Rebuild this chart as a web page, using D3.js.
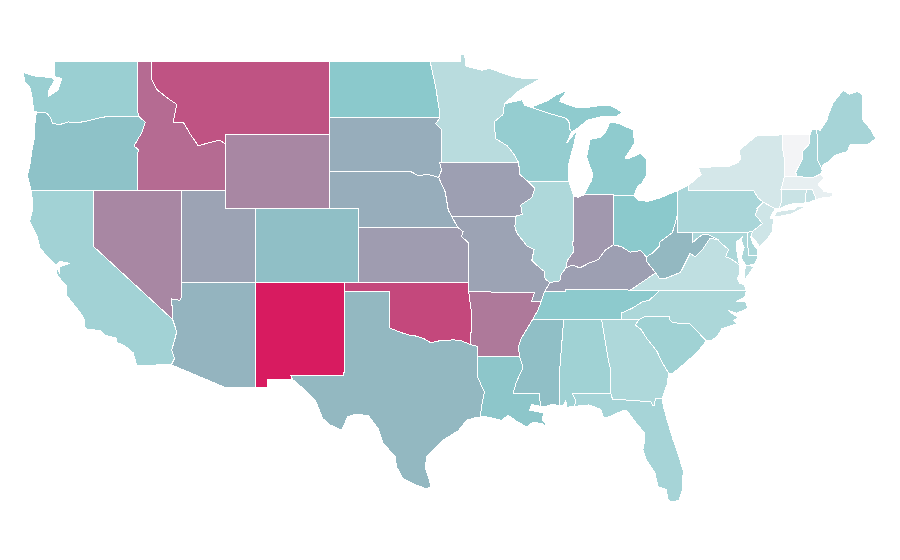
<!DOCTYPE html>
<html><head><meta charset="utf-8">
<script src="https://cdn.jsdelivr.net/npm/d3@7"></script>
<style>html,body{margin:0;background:#fff}svg{display:block}</style></head>
<body><svg id="map" width="900" height="560"></svg>
<script>
const stateNames=["WA","OR","CA","ID","NV","MT","WY","UT","AZ","CO","NM","ND","SD","NE","KS","OK","TX","MN","IA","MO","AR","LA","WI","IL","MS","MI","IN","KY","TN","AL","OH","GA","FL","SC","NC","VA","WV","PA","NY","VT","NH","ME","MA","RI","CT","NJ","DE","MD"];
const stateValues=[43,52,39,77,69,84,69,61,56,53,100,50,58,58,63,87,55,28,62,61,73,51,45,33,53,48,64,62,49,40,50,33,37,40,34,25,55,35,15,0,37,37,6,23,20,18,34,34];
const colorStops=["#f3f4f6","#8bc9cc","#d81b60"];
const valueStops=[0,50,100];

// shared borders, [lon,lat]
const wa_or=[[-123.85,46.24],[-123.4,46.2],[-123.15,46.18],[-122.9,45.95],[-122.75,45.62],[-122.3,45.55],[-121.7,45.7],[-121.2,45.65],[-120.6,45.72],[-119.6,45.92],[-119,46],[-116.92,46]];
const or_id=[[-116.92,46],[-116.48,45.68],[-116.7,45.15],[-117.25,44.4],[-116.95,44.2],[-117.03,43.85],[-117.03,42]];
const id_mt=[[-116.05,49],[-116.05,48],[-115.7,47.45],[-115,47],[-114.35,46.65],[-114.5,46.1],[-114.6,45.65],[-113.9,45.66],[-113.45,45.05],[-112.9,44.4],[-112.3,44.55],[-111.43,44.72],[-111.05,44.49]];
const ca_az=[[-114.63,35],[-114.36,34.34],[-114.5,33.9],[-114.7,33.35],[-114.5,32.9],[-114.72,32.55]];
const nv_az=[[-114.04,36.2],[-114.14,36.04],[-114.7,36.12],[-114.63,35]];
const red_river=[[-100,34.56],[-99.5,34.4],[-99.2,34.3],[-98.6,34.15],[-98.1,34.1],[-97.6,33.95],[-97.2,33.75],[-96.6,33.85],[-95.7,33.9],[-95.2,33.88],[-94.48,33.64]];
const ok_ar=[[-94.48,33.64],[-94.43,35.4],[-94.62,36.5]];
const mn_nd=[[-97.23,49],[-97.1,48.5],[-96.85,47.6],[-96.6,46.3],[-96.56,45.93]];
const mn_sd=[[-96.56,45.93],[-96.85,45.6],[-96.45,45.3],[-96.45,43.52]];
const ne_sd=[[-104.05,43],[-98.5,43],[-98,42.78],[-97.4,42.87],[-96.65,42.7]];
const ia_sd=[[-96.6,43.52],[-96.45,43.1],[-96.65,42.7]];
const ia_ne=[[-96.65,42.7],[-96.2,41.9],[-96,40.93],[-95.77,40.6]];
const ne_mo=[[-95.77,40.6],[-95.37,40]];
const ks_mo=[[-95.37,40],[-95,39.76],[-95.1,39.5],[-94.63,39.15],[-94.62,37]];
const mn_wi=[[-92.2,46.7],[-92.3,46.1],[-92.9,45.7],[-92.8,44.8],[-92,44.4],[-91.6,44],[-91.25,43.52]];
const ia_wi=[[-91.25,43.52],[-91.15,42.85],[-90.64,42.5]];
const ia_il=[[-90.64,42.5],[-90.15,42.1],[-90.35,41.6],[-91.1,41.2],[-91,40.7],[-91.42,40.6]];
const mo_il=[[-91.42,40.6],[-91.5,40.03],[-91.37,39.7],[-90.7,39],[-90.2,38.8],[-90.35,38.2],[-89.95,37.9],[-89.5,37.6],[-89.45,37.2],[-89.13,37]];
const mo_ky=[[-89.5,36.5],[-89.13,37]];
const mo_tn=[[-89.7,36],[-89.5,36.5]];
const ar_tn=[[-90.3,35],[-89.95,35.5],[-89.7,36]];
const ar_ms=[[-90.3,35],[-90.6,34.6],[-91.05,34],[-91.27,33.5],[-91.17,33]];
const ms_la=[[-91.17,33],[-90.95,32.4],[-91.4,31.6],[-91.62,30.98],[-89.85,30.98],[-89.75,30.3]];
const la_coast=[[-89.75,30.3],[-90.35,30.4],[-90.5,30.1],[-89.9,30],[-89.55,29.95],[-89.65,29.6],[-89.15,29.05],[-89.6,29.35],[-90.25,29.45],[-90.7,29.2],[-91.3,29.45],[-91.95,29.82],[-92.4,29.55],[-93.5,29.75],[-93.85,29.72]];
const tx_la=[[-93.85,29.72],[-93.7,30.5],[-93.55,31.1],[-93.8,31.5],[-94.04,31.95],[-94.04,33]];
const wi_sup=[[-92.2,46.7],[-92,46.72],[-91,46.9],[-90.85,46.62],[-90.4,46.5]];
const wi_up=[[-90.4,46.5],[-89.1,46.14],[-88.1,45.92],[-87.85,45.75],[-87.77,45.3],[-87.66,45.15]];
const wi_lake=[[-87.66,45.15],[-88,44.55],[-87.3,45.25],[-87.5,44.5],[-87.7,43.9],[-87.9,43.28],[-87.85,42.49]];
const il_in=[[-87.53,41.7],[-87.53,39.35],[-87.6,39.1],[-87.5,38.7],[-87.95,38.2],[-88.05,37.8]];
const il_ky=[[-89.13,37],[-88.45,37.1],[-88.4,37.4],[-88.05,37.8]];
const in_ky=[[-88.05,37.8],[-87.6,37.95],[-87.1,37.8],[-86.5,38.05],[-85.85,38.25],[-85.4,38.75],[-84.85,39.05]];
const oh_ky=[[-84.85,39.05],[-84.3,38.95],[-83.7,38.65],[-83,38.73],[-82.6,38.4]];
const oh_wv=[[-82.6,38.4],[-82.2,38.6],[-81.75,38.95],[-81.7,39.2],[-80.85,39.7],[-80.7,40.1],[-80.52,40.64]];
const ky_wv=[[-82.6,38.4],[-82.6,38.15],[-81.97,37.53]];
const ky_va=[[-81.97,37.53],[-83.68,36.6]];
const ky_tn=[[-83.68,36.6],[-88.05,36.65],[-88.05,36.5],[-89.5,36.5]];
const tn_nc=[[-84.3,35],[-84.3,35.35],[-83.6,35.6],[-82.9,35.95],[-82.4,36.05],[-81.7,36.58]];
const tn_va=[[-81.7,36.58],[-83.68,36.6]];
const ga_sc=[[-83.1,35],[-83.37,34.7],[-83,34.5],[-82.55,33.95],[-81.9,33.3],[-81.5,32.63],[-81.1,32.1]];
const al_ga=[[-85.63,34.98],[-85.18,32.85],[-85.05,32.38],[-85.05,31.55],[-85,31]];
const ga_fl=[[-85,31],[-84.9,30.7],[-82.3,30.55],[-82.2,30.37],[-82.05,30.36],[-82,30.75],[-81.55,30.72]];
const al_fl=[[-87.6,31],[-85,31]];
const al_ms=[[-88.2,34.98],[-88.5,31.9],[-88.45,30.35]];
const nc_sc=[[-83.1,35],[-82.7,35.16],[-81.05,35.15],[-81.05,35.03],[-80.8,34.82],[-79.7,34.8],[-78.55,33.85]];
const nc_va=[[-75.85,36.55],[-81.7,36.58]];
const va_wv=[[-81.97,37.53],[-81.7,37.2],[-81.25,37.25],[-80.3,37.55],[-79.65,38.58],[-79.3,38.4],[-78.85,38.75],[-78.3,39.4],[-77.75,39.32]];
const va_md=[[-77.75,39.32],[-77.5,39.1],[-77.05,38.8],[-77.25,38.4],[-76.9,38.3],[-76.3,37.95]];
const md_wv=[[-79.48,39.72],[-79.48,39.17],[-79.05,39.47],[-78.8,39.6],[-78.42,39.6],[-77.75,39.32]];
const pa_oh=[[-80.52,41.98],[-80.52,40.64]];
const pa_wv=[[-80.52,40.64],[-80.52,39.72],[-79.48,39.72]];
const pa_md=[[-79.48,39.72],[-75.8,39.72]];
const ny_pa=[[-79.76,42.27],[-79.76,42],[-75.35,42],[-75.07,41.6],[-74.7,41.36]];
const nj_pa=[[-74.7,41.36],[-75.15,41],[-75.1,40.95],[-75.25,40.68],[-74.75,40.2],[-75.4,39.8]];
const de_pa=[[-75.4,39.8],[-75.8,39.72]];
const de_nj=[[-75.4,39.8],[-75.55,39.5]];
const vt_ny=[[-73.43,45],[-73.4,44.3],[-73.25,43.6],[-73.27,42.75]];
const vt_nh=[[-71.55,45],[-71.6,44.5],[-72.05,44.1],[-72.05,43.7],[-72.5,43],[-72.46,42.73]];
const ma_n=[[-73.27,42.75],[-72.46,42.73],[-71.3,42.7],[-70.85,42.87]];
const ny_ma=[[-73.27,42.75],[-73.5,42.05]];
const ma_ct=[[-73.5,42.05],[-71.8,42.02]];
const ma_ri=[[-71.8,42.02],[-71.38,42.02],[-71.2,41.68],[-71.15,41.5]];
const ct_ri=[[-71.8,42.02],[-71.85,41.32]];
const ny_ct=[[-73.5,42.05],[-73.5,41.3],[-73.65,41]];
const nh_me=[[-71.08,45.3],[-71,43.6],[-70.7,43.07]];

// state outlines
const rev=a=>[...a].reverse();
const ring=(...parts)=>parts.flat();
const WA=[ring([[-117.04,49],[-122.6,49],[-122.6,48.15],[-122.14,48.06],[-122.37,47.43],[-123.04,47.07],[-123.04,47.34],[-122.8,47.7],[-122.62,47.97],[-122.85,48.12],[-123.2,48.13],[-123.9,48.17],[-124.72,48.38],[-124.65,47.9],[-124.3,47.6],[-124.1,46.9],[-124.05,46.3]],wa_or,[[-117.04,46.42]])];
const OR=[ring(wa_or,or_id,[[-124.2,42],[-124.46,42.83],[-124.3,43.3],[-124.1,44.4],[-123.95,44.9],[-123.95,45.6]])];
const CA=[ring([[-124.17,42],[-120,42],[-120,38.97]],ca_az,[[-117.07,32.53],[-117.3,33.2],[-117.9,33.6],[-118.4,33.75],[-118.45,34],[-119.2,34.15],[-119.55,34.4],[-120.55,34.5],[-120.6,35],[-120.9,35.4],[-121.8,36.3],[-121.8,36.85],[-122,36.95],[-122.5,37.5],[-122.45,37.8],[-122.25,37.5],[-122.3,37.85],[-121.6,38.05],[-122.3,38.15],[-122.5,37.95],[-123,38.3],[-123.6,38.87],[-123.8,39.5],[-124.3,40.3],[-124.1,41]]),[[-120.25,34.02],[-120,34.06],[-119.9,33.98],[-120.1,33.95]]];
const ID=[ring([[-117.04,49]],id_mt,[[-111.05,42]],rev(or_id),[[-117.04,46.42]])];
const NV=[ring([[-120,42],[-114.04,42],[-114.04,37]],nv_az,[[-120,38.97]])];
const MT=[ring(id_mt,[[-111.05,45],[-104.05,45],[-104.05,49]])];
const WY=[[[-111.05,45],[-104.05,45],[-104.05,41],[-111.05,41]]];
const UT=[[[-114.04,42],[-111.05,42],[-111.05,41],[-109.05,41],[-109.05,37],[-114.04,37]]];
const AZ=[ring([[-114.04,37],[-109.05,37],[-109.05,31.35],[-111.15,31.35]],rev(ca_az),rev(nv_az))];
const CO=[[[-109.05,41],[-102.05,41],[-102.05,37],[-109.05,37]]];
const NM=[[[-109.05,37],[-103,37],[-103.05,32],[-106.65,32],[-106.55,31.78],[-108.25,31.78],[-108.25,31.35],[-109.05,31.35]]];
const ND=[ring([[-104.05,49]],mn_nd,[[-104.05,45.95]])];
const SD=[ring([[-104.05,45.95]],mn_sd,[[-96.6,43.52]],ia_sd,rev(ne_sd))];
const NE=[ring(ne_sd,ia_ne,ne_mo,[[-102.05,40],[-102.05,41],[-104.05,41]])];
const KS=[ring([[-102.05,40]],ks_mo,[[-102.05,37]])];
const OK=[ring([[-103,37],[-94.62,37],[-94.62,36.5]],rev(ok_ar),rev(red_river),[[-100,36.5],[-103,36.5]])];
const TX=[ring([[-106.65,32],[-103.05,32],[-103,36.5],[-100,36.5]],red_river,[[-94.04,33.55],[-94.04,33]],rev(tx_la),[[-94,29.72],[-94.75,29.56],[-95.3,29],[-96.4,28.45],[-97.1,27.9],[-97.46,27.6],[-97.55,27],[-97.35,26.5],[-97.15,25.95],[-97.5,25.85],[-98.2,26.05],[-99.06,26.4],[-99.5,27.03],[-99.6,27.6],[-100.4,28.3],[-100.75,29.1],[-101.4,29.8],[-102.3,29.88],[-102.8,29.74],[-103.2,29.02],[-104,29.3],[-104.5,29.65],[-105,30.65],[-106,31.4],[-106.55,31.78]])];
const MN=[ring([[-95.15,49.35],[-94.9,49.35],[-94.8,48.72],[-93.75,48.5],[-93.2,48.6],[-92.3,48.33],[-91.6,48.15],[-91,48.07],[-89.8,48.02],[-91.15,47.43],[-92.2,46.7]],mn_wi,[[-96.45,43.52]],rev(mn_sd),rev(mn_nd),[[-95.15,49]])];
const IA=[ring([[-96.6,43.52],[-91.25,43.52]],ia_wi,ia_il,rev(ia_ne),rev(ia_sd))];
const MO=[ring([[-95.77,40.6]],mo_il,rev(mo_ky),rev(mo_tn),[[-90.37,36],[-90.15,36.48],[-94.62,36.5],[-94.62,37]],rev(ks_mo),rev(ne_mo))];
const AR=[ring([[-94.62,36.5],[-90.15,36.48],[-90.37,36],[-89.7,36]],rev(ar_tn),ar_ms,[[-94.04,33],[-94.04,33.55],[-94.48,33.64]],[[-94.43,35.4]])];
const LA=[ring([[-94.04,33]],ms_la,la_coast,tx_la)];
const WI=[ring(wi_sup,wi_up,wi_lake,[[-90.64,42.5]],rev(ia_wi),rev(mn_wi))];
const IL=[ring([[-90.64,42.5],[-87.85,42.49],[-87.6,41.9]],il_in,rev(il_ky),rev(mo_il),rev(ia_il))];
const MS=[ring([[-90.3,35],[-88.2,34.98]],al_ms,[[-89,30.4],[-89.4,30.3],[-89.75,30.3]],rev(ms_la),rev(ar_ms))];
const MI=[ring([[-86.82,41.76],[-86.3,42.55],[-86.25,42.9],[-86.65,43.8],[-86.42,44.72],[-86.2,44.8],[-85.75,44.85],[-85.4,45.1],[-85.06,45.7],[-84.4,45.6],[-83.5,45.26],[-83.4,44.55],[-84.05,43.75],[-83.85,43.7],[-83,44],[-82.6,43.7],[-82.6,42.8],[-82.9,42.4],[-83.2,42.2],[-83.45,41.73],[-84.8,41.7],[-84.8,41.76]]),
  ring([[-90.4,46.5],[-89.3,46.85],[-88.7,47.16],[-87.9,47.43],[-88.4,46.95],[-88.45,46.8],[-87.4,46.5],[-86.5,46.5],[-85.4,46.62],[-84.9,46.55],[-84.2,46.2],[-84.7,45.98],[-85.75,45.97],[-86.6,45.8],[-87.1,45.45]],rev(wi_up)),
  [[-89.2,47.88],[-88.5,48.15],[-88.55,48.1],[-89.15,47.92]]];
const IN=[ring([[-87.53,41.7],[-87.2,41.62],[-86.82,41.76],[-84.8,41.76],[-84.85,39.05]],rev(in_ky),rev(il_in))];
const KY=[ring([[-89.13,37]],il_ky,in_ky,oh_ky,ky_wv,ky_va,ky_tn)];
const TN=[ring(rev(ky_tn),rev(tn_va),rev(tn_nc),[[-85.63,34.98],[-88.2,34.98],[-90.3,35]],ar_tn,mo_tn)];
const AL=[ring([[-88.2,34.98]],al_ga,rev(al_fl),[[-87.4,30.65],[-87.45,30.3],[-88,30.25],[-88.05,30.6],[-88.25,30.35],[-88.45,30.35]],rev(al_ms))];
const OH=[ring([[-84.8,41.7],[-83.45,41.73],[-83.15,41.47],[-82.5,41.4],[-81.7,41.58],[-81.2,41.75],[-80.52,41.98],[-80.52,40.64]],rev(oh_wv),rev(oh_ky),[[-84.8,41.76]])];
const GA=[ring([[-85.63,34.98],[-84.3,35]],ga_sc,[[-81.2,31.5],[-81.55,30.72]],rev(ga_fl),rev(al_ga))];
const FL=[ring([[-87.6,31]],ga_fl,[[-81.45,30.3],[-81.2,29.56],[-80.8,28.5],[-80.5,27.8],[-80.12,26.85],[-80.15,25.8],[-80.4,25.2],[-80.9,25.14],[-81.15,25.25],[-81.25,25.8],[-81.8,25.95],[-82.03,26.7],[-82.6,27.4],[-82.85,27.95],[-82.7,28.5],[-82.75,28.9],[-83.2,29.3],[-83.9,30.05],[-84.2,30.07],[-85.3,29.68],[-85.5,29.72],[-85.7,30.15],[-86.5,30.38],[-87.45,30.3],[-87.4,30.65]])];
const SC=[ring(nc_sc,[[-79.1,33.3],[-79.9,32.7],[-80.5,32.3],[-80.9,32.05]],rev(ga_sc))];
const NC=[ring(rev(nc_va),[[-75.95,36.2],[-76.5,36],[-75.9,35.95],[-75.75,35.6],[-76.5,35.35],[-77.1,35.5],[-76.4,35.1],[-76.7,34.95],[-76.5,34.78],[-77.5,34.5],[-77.8,34.1],[-78.2,33.88]],rev(nc_sc),[[-84.3,35]],tn_nc)];
const VA=[ring(rev(ky_va),va_wv,va_md,[[-76.3,37.5],[-76.45,37.2],[-76.3,36.95],[-76,36.9]],nc_va,rev(tn_va)),[[-75.9,37.95],[-75.65,37.95],[-75.35,37.85],[-75.95,37.15],[-75.98,37.5]]];
const WV=[ring(pa_wv,md_wv,rev(va_wv),rev(ky_wv),oh_wv)];
const PA=[ring([[-80.52,41.98],[-79.76,42.27]],ny_pa,nj_pa,de_pa,rev(pa_md),rev(pa_wv),rev(pa_oh))];
const NY=[ring(ny_pa,[[-73.9,41],[-73.65,41]],rev(ny_ct),rev(ny_ma),rev(vt_ny),[[-75.15,44.95],[-76.3,44.2],[-76.25,43.7],[-76.4,43.5],[-77,43.3],[-77.5,43.27],[-79.1,43.25],[-78.9,42.85]]),[[-74,40.6],[-73.75,40.85],[-72.6,40.98],[-72.3,41.15],[-71.9,41.07],[-72.8,40.72],[-73.9,40.55]]];
const VT=[ring(vt_ny,rev(vt_nh))];
const NH=[ring([[-71.55,45],[-71.43,45.26],[-71.08,45.3]],nh_me,[[-70.85,42.87]],[[-71.3,42.7],[-72.46,42.73]],rev(vt_nh))];
const ME=[ring(nh_me,[[-70.66,43.37],[-70.2,43.6],[-69.85,43.9],[-69,44.1],[-68.85,44.45],[-67.6,44.5],[-67.1,44.8],[-67.45,45.3],[-67.96,45.8],[-67.98,47.16],[-68.3,47.35],[-68.9,47.2],[-69.3,47.43],[-70,46.7],[-70.25,46.2],[-70.4,45.8],[-70.85,45.25]])];
const MA=[ring(ma_n,[[-70.6,42.65],[-71,42.3],[-70.6,41.95],[-70.05,41.85],[-70.05,41.65],[-70.65,41.6],[-71.15,41.5]],rev(ma_ri),rev(ma_ct),rev(ny_ma))];
const RI=[ring(ma_ri,[[-71.5,41.37],[-71.85,41.32]],rev(ct_ri))];
const CT=[ring(ma_ct,ct_ri,[[-72.9,41.25],[-73.65,41]],rev(ny_ct))];
const NJ=[ring([[-74.7,41.36],[-73.9,41],[-74.25,40.5],[-74,40.45],[-74.1,39.75],[-74.45,39.35],[-74.95,38.93],[-75.2,39.25],[-75.55,39.5],[-75.4,39.8]],rev(nj_pa))];
const DE=[ring(de_pa,[[-75.7,38.46],[-75.05,38.45],[-75.1,38.8],[-75.4,39.1]],rev(de_nj))];
const MD=[ring(pa_md,[[-75.7,38.46],[-75.05,38.45],[-75.25,38.03],[-75.65,37.95],[-75.9,37.95],[-76.2,38.35],[-76,38.9],[-76.2,39.35],[-76.05,39.55],[-76.5,39.2],[-76.5,38.8],[-76.4,38.3],[-76.3,37.95]],rev(va_md),rev(md_wv))];
const outlines={WA,OR,CA,ID,NV,MT,WY,UT,AZ,CO,NM,ND,SD,NE,KS,OK,TX,MN,IA,MO,AR,LA,WI,IL,MS,MI,IN,KY,TN,AL,OH,GA,FL,SC,NC,VA,WV,PA,NY,VT,NH,ME,MA,RI,CT,NJ,DE,MD};

const x=d3.scaleLinear().domain([-120,-70]).range([93.3,832.8]);
const y=d3.scaleLinear().domain([49,25]).range([61,504.3]);
const color=d3.scaleLinear().domain(valueStops).range(colorStops);
const path=d3.geoPath(d3.geoTransform({point(lon,lat){this.stream.point(x(lon),y(lat));}}));
const features=stateNames.map((n,i)=>({type:"Feature",properties:{name:n,value:stateValues[i]},
  geometry:{type:"MultiPolygon",coordinates:outlines[n].map(r=>[[...r,r[0]]])}}));
d3.select("#map").selectAll("path").data(features).join("path")
  .attr("d",path).attr("fill",d=>color(d.properties.value))
  .attr("stroke","#fff").attr("stroke-width",1).attr("shape-rendering","crispEdges");
</script></body></html>
